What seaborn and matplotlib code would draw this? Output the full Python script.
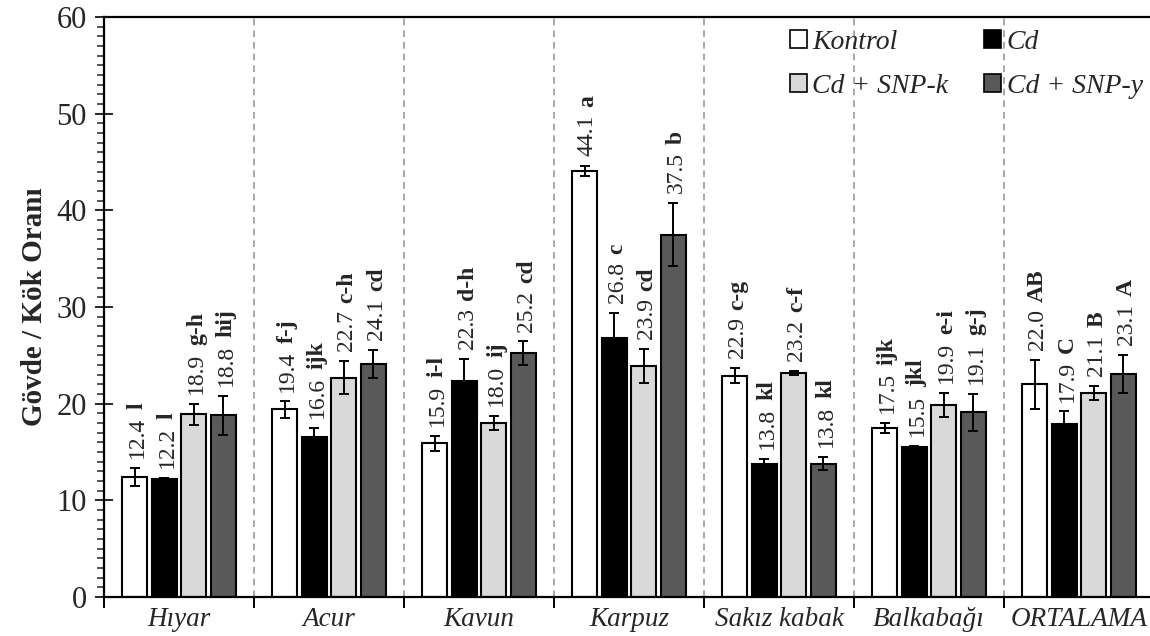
import numpy as np
import pandas as pd
import seaborn as sns
import matplotlib.pyplot as plt
from matplotlib.ticker import MultipleLocator, FixedLocator
from matplotlib.patches import Patch

gruplar = ["Hıyar", "Acur", "Kavun", "Karpuz", "Sakız kabak", "Balkabağı", "ORTALAMA"]
uygulamalar = ["Kontrol", "Cd", "Cd + SNP-k", "Cd + SNP-y"]

kontrol = [12.4, 19.4, 15.9, 44.1, 22.9, 17.5, 22.0]
cd = [12.2, 16.6, 22.3, 26.8, 13.8, 15.5, 17.9]
snp_k = [18.9, 22.7, 18.0, 23.9, 23.2, 19.9, 21.1]
snp_y = [18.8, 24.1, 25.2, 37.5, 13.8, 19.1, 23.1]

hata_kontrol = [0.95, 0.85, 0.8, 0.5, 0.8, 0.5, 2.5]
hata_cd = [0.15, 0.9, 2.35, 2.6, 0.5, 0.15, 1.3]
hata_snp_k = [1.1, 1.7, 0.75, 1.75, 0.2, 1.25, 0.75]
hata_snp_y = [2.0, 1.45, 1.25, 3.3, 0.7, 1.9, 1.95]

harf_kontrol = ["l", "f-j", "i-l", "a", "c-g", "ijk", "AB"]
harf_cd = ["l", "ijk", "d-h", "c", "kl", "jkl", "C"]
harf_snp_k = ["g-h", "c-h", "ij", "cd", "c-f", "e-i", "B"]
harf_snp_y = ["hij", "cd", "cd", "b", "kl", "g-j", "A"]

renkler = ["#ffffff", "#000000", "#d9d9d9", "#595959"]

degerler = [kontrol, cd, snp_k, snp_y]
hatalar = [hata_kontrol, hata_cd, hata_snp_k, hata_snp_y]
harfler = [harf_kontrol, harf_cd, harf_snp_k, harf_snp_y]

rows = []
for u, vals in zip(uygulamalar, degerler):
    for g, v in zip(gruplar, vals):
        rows.append({"grup": g, "uygulama": u, "oran": v})
df = pd.DataFrame(rows)

sns.set_style("ticks")
plt.rcParams["font.family"] = ["Liberation Serif", "DejaVu Serif"]

fig = plt.figure(figsize=(11.5, 6.36), dpi=100)
ax = fig.add_axes([104 / 1150, 39 / 636, 1050 / 1150, 580 / 636])

sns.barplot(data=df, x="grup", y="oran", hue="uygulama", order=gruplar,
            hue_order=uygulamalar, palette=renkler, edgecolor="black",
            linewidth=1.5, width=0.79, gap=0.15, errorbar=None, legend=False, ax=ax)

ax.set_ylim(0, 60)
ax.set_xlim(-0.5, 6.5)

# hata cubuklari ve etiketler
deger_yazilari = []
for cont, vals, errs, hs in zip(ax.containers, degerler, hatalar, harfler):
    xs = [p.get_x() + p.get_width() / 2 for p in cont.patches]
    ax.errorbar(xs, vals, yerr=errs, fmt="none", ecolor="black",
                elinewidth=1.4, capsize=3.4, capthick=1.4, zorder=5)
    for x, v, e, h in zip(xs, vals, errs, hs):
        t = ax.annotate(f"{v:.1f}", xy=(x, v + e), xytext=(6, 7),
                        textcoords="offset points", rotation=90,
                        rotation_mode="anchor", ha="left", va="baseline",
                        fontsize=17)
        deger_yazilari.append((t, x, h))

fig.canvas.draw()
inv = ax.transData.inverted()
for t, x, h in deger_yazilari:
    bb = t.get_window_extent()
    y_top = inv.transform((bb.x0, bb.y1))[1]
    ax.annotate(h, xy=(x, y_top), xytext=(6, 5.5), textcoords="offset points",
                rotation=90, rotation_mode="anchor", ha="left", va="baseline",
                fontsize=17, fontweight="bold")

# grup ayiricilari
for b in np.arange(0.5, 6.5, 1):
    ax.axvline(b, color="#999999", linestyle=(0, (4, 3)), linewidth=1.2, zorder=0)

ax.xaxis.set_major_locator(FixedLocator(range(len(gruplar))))
ax.set_xticklabels(gruplar, fontsize=19.5, fontstyle="italic")
ax.xaxis.set_minor_locator(FixedLocator(np.arange(-0.5, 6.6, 1)))
ax.tick_params(axis="x", which="major", length=0, pad=7)
ax.tick_params(axis="x", which="minor", length=8, width=1.4, direction="out", color="black")

ax.yaxis.set_major_locator(MultipleLocator(10))
ax.yaxis.set_minor_locator(MultipleLocator(1))
ax.tick_params(axis="y", which="major", length=13, width=1.4, direction="inout",
               labelsize=22, pad=6)
ax.tick_params(axis="y", which="minor", length=5, width=1.1, direction="out")

ax.set_xlabel("")
ax.set_ylabel("Gövde / Kök Oranı", fontsize=21, fontweight="bold", labelpad=6)

for s in ["left", "bottom", "top"]:
    ax.spines[s].set_visible(True)
    ax.spines[s].set_linewidth(1.6)
    ax.spines[s].set_color("black")
ax.spines["right"].set_visible(False)

# legend satir satir: Kontrol, Cd / Cd + SNP-k, Cd + SNP-y
sira = [0, 2, 1, 3]
handles = [Patch(facecolor=renkler[i], edgecolor="black", linewidth=1.2) for i in sira]
etiketler = [uygulamalar[i] for i in sira]
ax.legend(handles, etiketler, loc="upper left", bbox_to_anchor=(790 / 1150, 1 - 30 / 636),
          bbox_transform=fig.transFigure, ncol=2, frameon=False,
          prop={"style": "italic", "size": 20}, handlelength=0.6, handleheight=0.6,
          handletextpad=0.2, columnspacing=1.3, labelspacing=0.68, borderaxespad=0,
          borderpad=0)

fig.savefig("out.png", dpi=100)
